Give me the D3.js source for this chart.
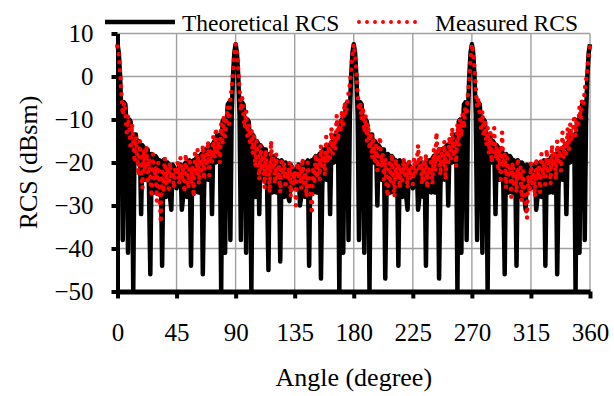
<!DOCTYPE html>
<html>
<head>
<meta charset="utf-8">
<script src="https://cdn.jsdelivr.net/npm/d3@7"></script>
<style>
  body { margin: 0; background: #fff; }
  svg { display: block; font-family: "Liberation Serif", serif; }
</style>
</head>
<body>
<svg id="chart" width="614" height="396"></svg>
<script>
const angles = d3.range(0, 361);
const xTicks = [0, 45, 90, 135, 180, 225, 270, 315, 360];
const yTicks = [-50, -40, -30, -20, -10, 0, 10];

// theoretical RCS (dBsm), read per degree, one array per quadrant
const theoQ1 = [
  7.5, 5.5, 0, -9, -38, -6, -6.5, -12, -41, -10,
  -10.5, -16, -50, -13.5, -13.5, -20, -15, -15.5, -32, -16,
  -16.5, -24, -17, -17, -26, -46, -18, -18.5, -27, -18.5,
  -19, -27, -19.5, -20, -44, -19.5, -20, -28, -20, -20.5,
  -28, -31, -20.5, -21, -23, -26, -23, -21, -20.5, -31,
  -28, -20.5, -20, -28, -20, -19.5, -44, -20, -19.5, -27,
  -19, -18.5, -27, -18.5, -18, -46, -26, -17, -17, -24,
  -16.5, -16, -32, -15.5, -15, -20, -13.5, -16, -13.5, -50,
  -10.5, -10, -41, -12, -6.5, -6, -38, -9, 0, 5.5
];
const theoQ2 = [
  7.5, 5.5, 0, -9, -38, -6, -6.5, -12, -41, -10,
  -10.5, -16, -50, -13.5, -14, -28, -15, -15.5, -32, -16,
  -16.5, -24, -17, -17, -26, -45, -18, -18.5, -27, -18.5,
  -19, -27, -19.5, -20, -43, -19.5, -20, -28, -20, -20.5,
  -28, -29, -20.5, -21, -23, -26, -23, -21, -20.5, -30,
  -28, -20.5, -20, -28, -20, -19.5, -44, -20, -19.5, -27,
  -19, -18.5, -27, -18.5, -18, -47, -26, -17, -17, -24,
  -16.5, -16, -32, -15.5, -15, -20, -13.5, -16, -13.5, -50,
  -10.5, -10, -41, -12, -6.5, -6, -38, -9, 0, 5.5
];
const theoQ3 = [
  7.5, 5.5, 0, -9, -38, -6, -6.5, -12, -41, -10,
  -10.5, -16, -50, -13.5, -13.5, -20, -15, -15.5, -30, -16,
  -16.5, -24, -17, -17, -47, -26, -18, -18.5, -27, -18.5,
  -19, -27, -19.5, -20, -44, -19.5, -20, -28, -20, -20.5,
  -28, -31, -20.5, -21, -23, -26, -23, -21, -20.5, -31,
  -28, -20.5, -20, -28, -20, -44, -19.5, -20, -19.5, -27,
  -19, -18.5, -27, -18.5, -18, -47, -26, -17, -17, -24,
  -16.5, -16, -30, -15.5, -15, -20, -13.5, -16, -13.5, -50,
  -10.5, -10, -41, -12, -6.5, -6, -38, -9, 0, 5.5
];
const theoQ4 = [
  7.5, 5.5, 0, -9, -38, -6, -6.5, -12, -41, -10,
  -10.5, -16, -50, -13.5, -13.5, -20, -15, -15.5, -32, -16,
  -16.5, -24, -17, -17, -26, -46, -18, -18.5, -27, -18.5,
  -19, -27, -19.5, -20, -44, -19.5, -20, -28, -20, -20.5,
  -28, -31, -20.5, -21, -23, -26, -23, -21, -20.5, -31,
  -28, -20.5, -20, -28, -20, -19.5, -44, -20, -19.5, -27,
  -19, -18.5, -27, -18.5, -18, -46, -26, -17, -17, -24,
  -16.5, -16, -32, -15.5, -15, -20, -13.5, -16, -13.5, -50,
  -10.5, -10, -41, -12, -6.5, -6, -38, -9, 0, 5.5
];
const theoEnd = [7.5];

// measured RCS (dBsm), read per degree
const measQ1 = [
  7, 5, 1, -4, -9, -6, -8, -13, -9, -12,
  -17, -11, -15, -20, -14, -18, -23, -15, -21, -26,
  -17, -22, -16, -25, -19, -23, -28, -18, -24, -21,
  -29, -20, -26, -34, -22, -27, -19, -25, -21, -27,
  -20, -24, -22, -26, -21, -23, -20, -25, -19, -24,
  -21, -27, -18, -23, -26, -19, -25, -21, -28, -18,
  -23, -17, -25, -19, -22, -16, -24, -18, -21, -15,
  -23, -17, -20, -14, -19, -12, -18, -15, -20, -11,
  -16, -9, -14, -10, -7, -11, -5, -3, 1, 5
];
const measQ2 = [
  7.5, 5.5, 1.5, -3, -8, -5, -9, -12, -8, -14,
  -11, -16, -12, -18, -14, -21, -15, -19, -24, -16,
  -22, -18, -26, -17, -23, -20, -27, -15, -22, -19,
  -25, -18, -24, -21, -27, -19, -23, -20, -26, -22,
  -24, -20, -28, -21, -25, -22, -30, -20, -24, -21,
  -26, -19, -25, -22, -28, -20, -24, -27, -32, -21,
  -25, -18, -23, -19, -24, -16, -21, -18, -23, -14,
  -20, -16, -19, -12, -18, -14, -17, -9, -15, -11,
  -13, -8, -12, -6, -9, -6, -4, -2, 2, 5
];
const measQ3 = [
  7.5, 5, 1, -4, -8, -6, -10, -7, -13, -9,
  -15, -11, -17, -13, -19, -14, -20, -16, -22, -17,
  -14, -21, -18, -24, -19, -26, -28, -20, -25, -18,
  -23, -28, -19, -24, -20, -26, -21, -25, -19, -23,
  -20, -26, -19, -24, -21, -25, -19, -23, -20, -16,
  -22, -19, -25, -20, -24, -18, -26, -21, -23, -19,
  -25, -17, -22, -13, -20, -16, -23, -18, -21, -15,
  -24, -17, -20, -14, -19, -12, -18, -15, -21, -11,
  -16, -10, -14, -8, -12, -7, -9, -4, -1, 4
];
const measQ4 = [
  7.5, 5.5, 2, -3, -7, -5, -9, -12, -8, -14,
  -10, -16, -12, -18, -13, -20, -15, -12, -19, -16,
  -22, -17, -24, -13, -21, -18, -26, -19, -23, -21,
  -28, -20, -25, -22, -27, -19, -24, -21, -29, -22,
  -26, -30, -33, -23, -27, -20, -25, -22, -28, -19,
  -24, -21, -27, -18, -23, -20, -26, -17, -22, -19,
  -25, -16, -21, -18, -24, -15, -20, -17, -22, -13,
  -19, -15, -18, -12, -17, -11, -15, -13, -9, -14,
  -10, -12, -7, -10, -5, -7, -3, -1, 2, 5
];
const measEnd = [7];

const theoretical = [].concat(theoQ1, theoQ2, theoQ3, theoQ4, theoEnd);
const measured = [].concat(measQ1, measQ2, measQ3, measQ4, measEnd);

const svg = d3.select('#chart');

const x = d3.scaleLinear().domain([0, 360]).range([117.5, 590]);
const y = d3.scaleLinear().domain([-50, 10]).range([291.5, 33.5]);

// grid
const grid = svg.append('g').attr('stroke', '#a0a0a0').attr('stroke-width', 1.4);
grid.selectAll('.hg')
  .data(yTicks.filter(d => d > -50))
  .enter().append('line')
  .attr('x1', x(0)).attr('x2', x(360))
  .attr('y1', d => y(d)).attr('y2', d => y(d));
grid.selectAll('.vg')
  .data(xTicks.filter(d => d > 0))
  .enter().append('line')
  .attr('x1', d => x(d)).attr('x2', d => x(d))
  .attr('y1', y(-50)).attr('y2', y(10));

// axes
const yAxis = svg.append('g')
  .attr('transform', `translate(${x(0)},0)`)
  .call(d3.axisLeft(y).tickValues(yTicks).tickSize(6).tickSizeOuter(0).tickPadding(18));
const xAxis = svg.append('g')
  .attr('transform', `translate(0,${y(-50)})`)
  .call(d3.axisBottom(x).tickValues(xTicks).tickSize(7).tickSizeOuter(0).tickPadding(25));

[yAxis, xAxis].forEach(g => g
  .attr('font-family', 'Liberation Serif, serif')
  .attr('font-size', 25));
yAxis.select('.domain').attr('stroke', '#000').attr('stroke-width', 4);
xAxis.select('.domain').attr('stroke', '#000').attr('stroke-width', 5);
svg.selectAll('.tick line').attr('stroke', '#000').attr('stroke-width', 4);
svg.selectAll('.tick text').attr('fill', '#000');

// series
const line = d3.line()
  .x((d, i) => x(angles[i]))
  .y(d => y(d));

svg.append('path')
  .datum(theoretical)
  .attr('d', line)
  .attr('fill', 'none')
  .attr('stroke', '#000')
  .attr('stroke-width', 4.5)
  .attr('stroke-linejoin', 'round');

svg.append('path')
  .datum(measured)
  .attr('d', line)
  .attr('fill', 'none')
  .attr('stroke', '#ff0000')
  .attr('stroke-width', 4.5)
  .attr('stroke-linecap', 'round')
  .attr('stroke-dasharray', '0 8');

// legend
svg.append('line')
  .attr('x1', 105).attr('x2', 175).attr('y1', 22).attr('y2', 22)
  .attr('stroke', '#000').attr('stroke-width', 4.5);
svg.append('text')
  .attr('x', 182).attr('y', 31)
  .style('font-size', '23.5px')
  .text('Theoretical RCS');
svg.append('line')
  .attr('x1', 359).attr('x2', 423).attr('y1', 22).attr('y2', 22)
  .attr('stroke', '#ff0000').attr('stroke-width', 4)
  .attr('stroke-linecap', 'round')
  .attr('stroke-dasharray', '0 8');
svg.append('text')
  .attr('x', 435).attr('y', 31)
  .style('font-size', '23.5px')
  .text('Measured RCS');

// axis titles
svg.append('text')
  .attr('x', (x(0) + x(360)) / 2).attr('y', 386)
  .attr('text-anchor', 'middle')
  .style('font-size', '26px')
  .text('Angle (degree)');
svg.append('text')
  .attr('transform', `translate(37,${(y(10) + y(-50)) / 2}) rotate(-90)`)
  .attr('text-anchor', 'middle')
  .style('font-size', '26px')
  .text('RCS (dBsm)');
</script>
</body>
</html>
